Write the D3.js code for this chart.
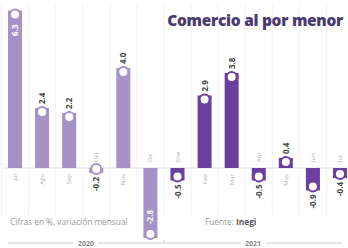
<!DOCTYPE html>
<html>
<head>
<meta charset="utf-8">
<script src="https://cdn.jsdelivr.net/npm/d3@7"></script>
<style>
  body { margin: 0; background: #fff; }
  svg { display: block; font-family: "Open Sans", sans-serif; }
</style>
</head>
<body>
<svg id="chart" width="348" height="248"></svg>
<script>
// monthly retail change, Jul 2020 - Jul 2021
const months = ["Jul", "Ago", "Sep", "Oct", "Nov", "Dic", "Ene", "Feb", "Mar", "Abr", "May", "Jun", "Jul"];
const years = ["2020", "2020", "2020", "2020", "2020", "2020", "2021", "2021", "2021", "2021", "2021", "2021", "2021"];
const values = [6.3, 2.4, 2.2, -0.2, 4.0, -2.8, -0.5, 2.9, 3.8, -0.5, 0.4, -0.9, -0.4];
const yearLabels = ["2020", "2021"];

const colors = { "2020": "#a692c6", "2021": "#6b3f9e" };

const svg = d3.select("#chart");

const x = d3.scalePoint()
    .domain(d3.range(values.length))
    .range([15, 340]);
const y = d3.scaleLinear()
    .domain([-3, 6.4])
    .range([243, 8]);
const barW = 14;
const isInside = v => v > 6 || v < -2;

// faint column separators
svg.append("g")
    .selectAll("line")
    .data(d3.range(values.length + 1))
    .join("line")
    .attr("x1", i => x(0) + (i - 0.5) * x.step())
    .attr("x2", i => x(0) + (i - 0.5) * x.step())
    .attr("y1", 4).attr("y2", 215)
    .attr("stroke", "#f1eef5").attr("stroke-width", 1);

// title
svg.append("text")
    .attr("x", 343).attr("y", 26)
    .attr("text-anchor", "end")
    .attr("font-size", 15.5).attr("font-weight", 800)
    .attr("letter-spacing", -0.3)
    .attr("fill", "#4b3a70")
    .text("Comercio al por menor");

// baseline
svg.append("line")
    .attr("x1", 4).attr("x2", 346)
    .attr("y1", y(0)).attr("y2", y(0))
    .attr("stroke", "#ddd").attr("stroke-width", 1);

const g = svg.append("g");
const bars = g.selectAll("g.bar")
    .data(values.map((v, i) => ({ v, i, m: months[i], yr: years[i] })))
    .join("g").attr("class", "bar");

bars.append("rect")
    .attr("x", d => x(d.i) - barW / 2)
    .attr("width", barW)
    .attr("y", d => Math.min(y(d.v), y(0)))
    .attr("height", d => Math.abs(y(d.v) - y(0)))
    .attr("fill", d => colors[d.yr]);

bars.append("circle")
    .attr("cx", d => x(d.i))
    .attr("cy", d => y(d.v) + (d.v >= 0 ? 4 : -4))
    .attr("r", 5)
    .attr("fill", "#fff")
    .attr("stroke", d => colors[d.yr])
    .attr("stroke-width", 2);

const fmt = v => v.toFixed(1);
// value labels, rotated; inside the bar when it is long
bars.append("text")
    .attr("transform", d => {
        let ty;
        if (isInside(d.v)) ty = d.v > 0 ? y(d.v) + 14 : y(d.v) - 14;
        else ty = d.v > 0 ? y(d.v) - 4 : y(d.v) + 4;
        return `translate(${x(d.i) + 3},${ty}) rotate(-90)`;
    })
    .attr("text-anchor", d => {
        if (isInside(d.v)) return d.v > 0 ? "end" : "start";
        return d.v > 0 ? "start" : "end";
    })
    .attr("font-size", 8).attr("font-weight", 700)
    .attr("fill", d => isInside(d.v) ? "#fff" : "#444")
    .text(d => fmt(d.v));

// month labels on the opposite side of the bar
bars.append("text")
    .attr("transform", d => {
        const ty = d.v >= 0 ? y(0) + 6 : y(0) - 6;
        return `translate(${x(d.i) + 2},${ty}) rotate(-90)`;
    })
    .attr("text-anchor", d => d.v >= 0 ? "end" : "start")
    .attr("font-size", 6)
    .attr("fill", "#b0b0b0")
    .text(d => d.m);

// legend and source
svg.append("text")
    .attr("x", 10).attr("y", 225)
    .attr("font-size", 8.3).attr("fill", "#999")
    .text("Cifras en %, variación mensual");
const src = svg.append("text")
    .attr("x", 205).attr("y", 225)
    .attr("font-size", 8.3).attr("fill", "#999");
src.append("tspan").text("Fuente: ");
src.append("tspan").attr("font-weight", 700).attr("fill", "#555").text("Inegi");

// year axis
const firstOf = yr => years.indexOf(yr);
const lastOf = yr => years.lastIndexOf(yr);
const axisY = 243;
const split = (x(lastOf("2020")) + x(firstOf("2021"))) / 2;
svg.append("line")
    .attr("x1", 8).attr("x2", 342)
    .attr("y1", axisY).attr("y2", axisY)
    .attr("stroke", "#ccc");
svg.append("line")
    .attr("x1", split).attr("x2", split)
    .attr("y1", axisY - 3).attr("y2", axisY)
    .attr("stroke", "#ccc");
yearLabels.forEach(yr => {
    const cx = yr === "2020" ? (8 + split) / 2 : (split + 342) / 2;
    svg.append("rect")
        .attr("x", cx - 12).attr("y", axisY - 4)
        .attr("width", 24).attr("height", 8)
        .attr("fill", "#fff");
    svg.append("text")
        .attr("x", cx).attr("y", axisY + 2.5)
        .attr("text-anchor", "middle")
        .attr("font-size", 7).attr("font-weight", 700)
        .attr("fill", "#888")
        .text(yr);
});
</script>
</body>
</html>
